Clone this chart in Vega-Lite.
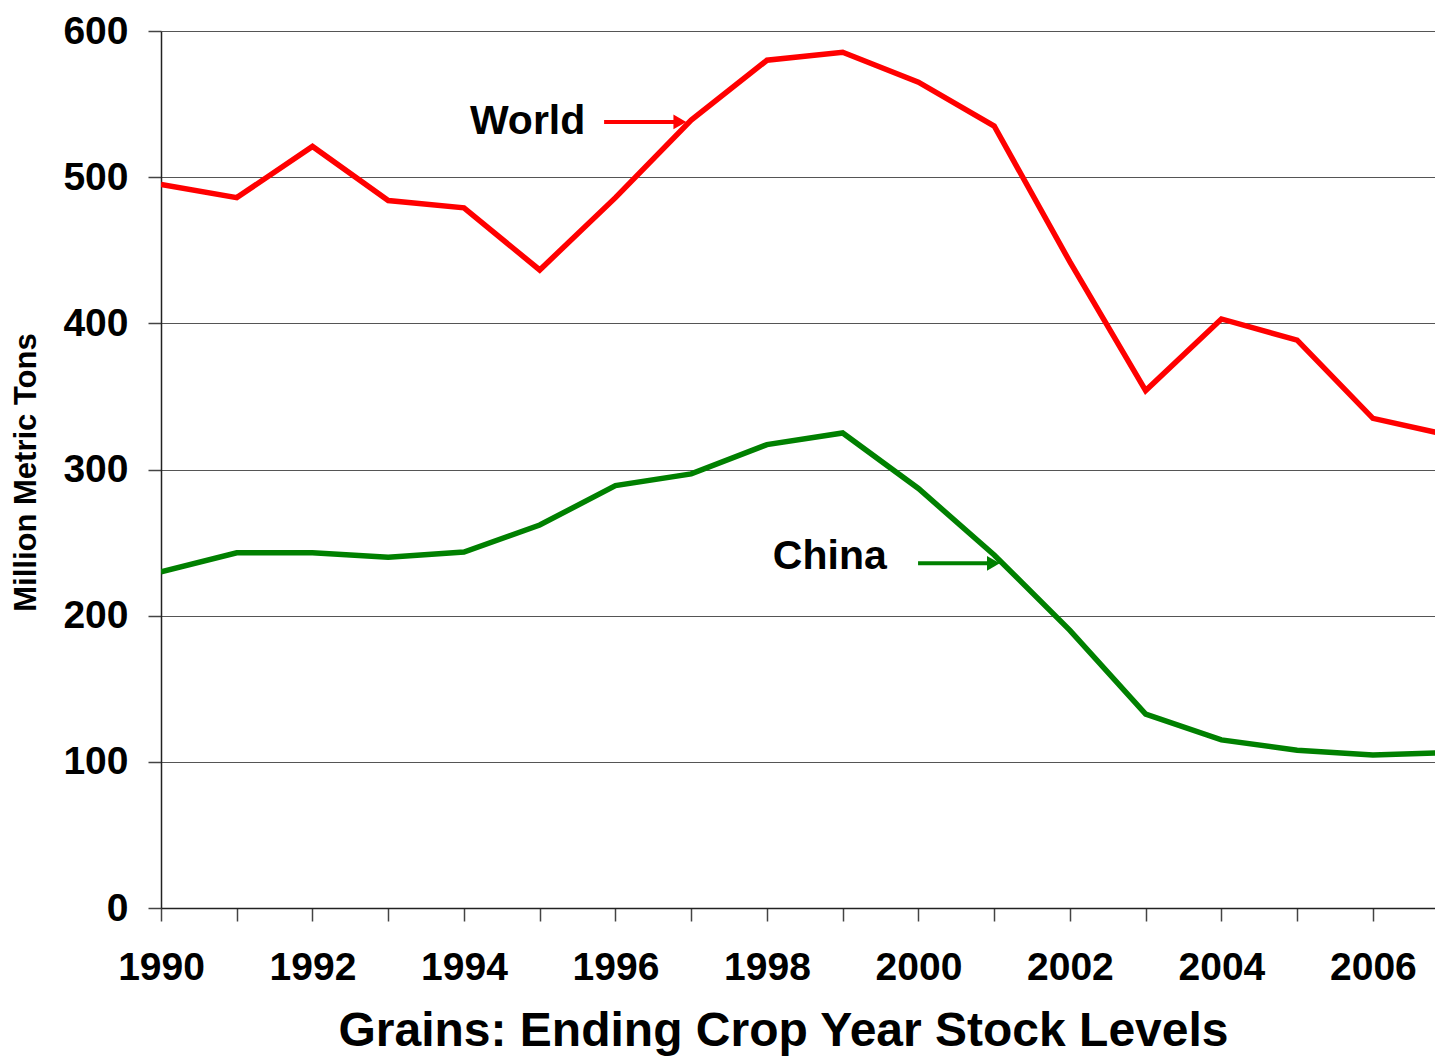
{
  "$schema": "https://vega.github.io/schema/vega-lite/v6.json",
  "autosize": "none",
  "width": 1274,
  "height": 877,
  "padding": {"left": 161, "top": 31, "right": 0, "bottom": 152},
  "background": "white",
  "config": {
    "view": {"stroke": null},
    "font": "Liberation Sans"
  },
  "datasets": {
    "series": [
      {"year": 1990, "series": "World", "value": 495},
      {"year": 1991, "series": "World", "value": 486},
      {"year": 1992, "series": "World", "value": 521},
      {"year": 1993, "series": "World", "value": 484},
      {"year": 1994, "series": "World", "value": 479},
      {"year": 1995, "series": "World", "value": 436.5},
      {"year": 1996, "series": "World", "value": 486},
      {"year": 1997, "series": "World", "value": 539},
      {"year": 1998, "series": "World", "value": 580},
      {"year": 1999, "series": "World", "value": 585.5},
      {"year": 2000, "series": "World", "value": 565},
      {"year": 2001, "series": "World", "value": 535},
      {"year": 2002, "series": "World", "value": 442},
      {"year": 2003, "series": "World", "value": 354},
      {"year": 2004, "series": "World", "value": 403},
      {"year": 2005, "series": "World", "value": 388.5},
      {"year": 2006, "series": "World", "value": 335},
      {"year": 2007, "series": "World", "value": 323.5},
      {"year": 1990, "series": "China", "value": 230},
      {"year": 1991, "series": "China", "value": 243},
      {"year": 1992, "series": "China", "value": 243},
      {"year": 1993, "series": "China", "value": 240},
      {"year": 1994, "series": "China", "value": 243.5},
      {"year": 1995, "series": "China", "value": 262},
      {"year": 1996, "series": "China", "value": 289},
      {"year": 1997, "series": "China", "value": 297},
      {"year": 1998, "series": "China", "value": 317},
      {"year": 1999, "series": "China", "value": 325},
      {"year": 2000, "series": "China", "value": 287},
      {"year": 2001, "series": "China", "value": 241.5},
      {"year": 2002, "series": "China", "value": 190},
      {"year": 2003, "series": "China", "value": 132.7},
      {"year": 2004, "series": "China", "value": 115},
      {"year": 2005, "series": "China", "value": 108},
      {"year": 2006, "series": "China", "value": 104.7},
      {"year": 2007, "series": "China", "value": 106.3}
    ],
    "labels": [
      {"series": "World", "x": 1994.84, "y": 537.7, "ax": 1995.85, "ax2": 1996.8, "ay": 537.8, "tip": 1996.85},
      {"series": "China", "x": 1998.83, "y": 239.8, "ax": 1999.995, "ax2": 2000.95, "ay": 235.8, "tip": 2000.99}
    ]
  },
  "layer": [
    {
      "data": {"name": "series"},
      "mark": {"type": "line", "strokeWidth": 5.5, "clip": true, "strokeJoin": "miter"},
      "encoding": {
        "x": {
          "field": "year", "type": "quantitative",
          "scale": {"domain": [1990, 2006.82], "nice": false, "zero": false},
          "axis": {
            "values": [1990,1991,1992,1993,1994,1995,1996,1997,1998,1999,2000,2001,2002,2003,2004,2005,2006],
            "labelExpr": "datum.value % 2 == 0 ? datum.value + '' : ''",
            "labelFontSize": 39, "labelFontWeight": "bold", "labelColor": "black",
            "labelFont": "Liberation Sans",
            "labelBaseline": "top", "labelPadding": 27, "labelFlush": false, "labelOverlap": false,
            "tickSize": 13, "tickColor": "#444", "tickWidth": 1.5,
            "domainColor": "#222", "domainWidth": 1.5,
            "grid": false,
            "title": "Grains: Ending Crop Year Stock Levels",
            "titleFont": "Liberation Sans", "titleFontSize": 48, "titleFontWeight": "bold", "titleColor": "black",
            "titleX": 622, "titleY": 123, "titleAlign": "center", "titleBaseline": "middle"
          }
        },
        "y": {
          "field": "value", "type": "quantitative",
          "scale": {"domain": [0, 600], "nice": false},
          "axis": {
            "values": [0, 100, 200, 300, 400, 500, 600],
            "labelFontSize": 39, "labelFontWeight": "bold", "labelColor": "black",
            "labelFont": "Liberation Sans",
            "labelPadding": 20, "labelFlush": false,
            "tickSize": 13, "tickColor": "#444", "tickWidth": 1.5,
            "domainColor": "#222", "domainWidth": 1.5,
            "grid": true, "gridColor": "#555", "gridWidth": 1.2,
            "title": "Million Metric Tons",
            "titleFont": "Liberation Sans", "titleFontSize": 31, "titleFontWeight": "bold", "titleColor": "black",
            "titleAngle": -90, "titleX": -135, "titleY": 441, "titleAlign": "center", "titleBaseline": "middle"
          }
        },
        "color": {
          "field": "series", "type": "nominal",
          "scale": {"domain": ["World", "China"], "range": ["#ff0000", "#008000"]},
          "legend": null
        },
        "detail": {"field": "series"}
      }
    },
    {
      "data": {"name": "labels"},
      "mark": {"type": "text", "fontSize": 41, "fontWeight": "bold", "font": "Liberation Sans", "color": "black", "align": "center", "baseline": "middle"},
      "encoding": {
        "x": {"field": "x", "type": "quantitative"},
        "y": {"field": "y", "type": "quantitative"},
        "text": {"field": "series"}
      }
    },
    {
      "data": {"name": "labels"},
      "mark": {"type": "rule", "strokeWidth": 4},
      "encoding": {
        "x": {"field": "ax", "type": "quantitative"},
        "x2": {"field": "ax2"},
        "y": {"field": "ay", "type": "quantitative"},
        "color": {"field": "series", "type": "nominal", "legend": null}
      }
    },
    {
      "data": {"name": "labels"},
      "mark": {"type": "point", "shape": "triangle-right", "filled": true, "size": 220, "opacity": 1},
      "encoding": {
        "x": {"field": "tip", "type": "quantitative"},
        "y": {"field": "ay", "type": "quantitative"},
        "color": {"field": "series", "type": "nominal", "legend": null}
      }
    }
  ]
}
